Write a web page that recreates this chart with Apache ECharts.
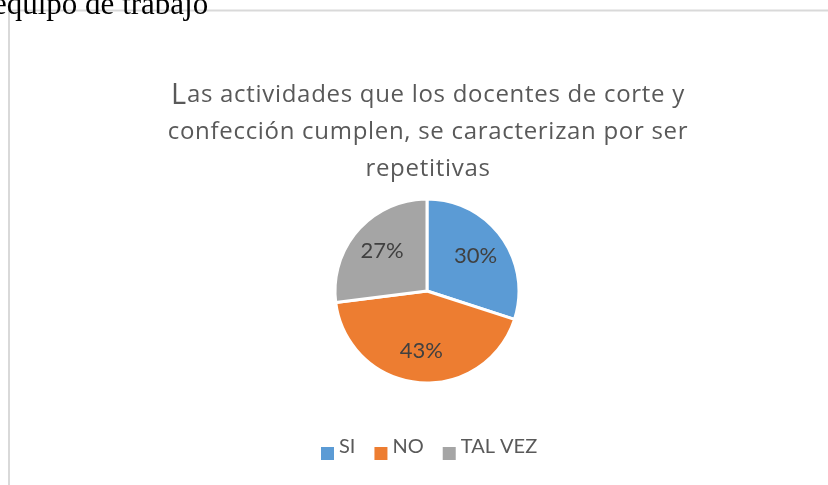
<!DOCTYPE html>
<html>
<head>
<meta charset="utf-8">
<script src="https://cdn.jsdelivr.net/npm/echarts@6/dist/echarts.min.js"></script>
<style>
html,body{margin:0;padding:0;background:#fff;}
#chart{width:828px;height:485px;}
</style>
</head>
<body>
<div id="chart"></div>
<script>
const categories = ['SI', 'NO', 'TAL VEZ'];
const values = [30, 43, 27];
const colors = ['#5B9BD5', '#ED7D31', '#A5A5A5'];
const titleLines = ['Las actividades que los docentes de corte y', 'confección cumplen, se caracterizan por ser', 'repetitivas'];
const headingText = 'equipo de trabajo';

// Title font is rendered with a little extra tracking (like the original Office chart)
(function () {
  const P = CanvasRenderingContext2D.prototype;
  const spacingFor = function (ctx) {
    return (ctx.font && ctx.font.indexOf('Open Sans') >= 0) ? '0.7px' : '0px';
  };
  const origFill = P.fillText, origMeasure = P.measureText;
  P.fillText = function () { try { this.letterSpacing = spacingFor(this); } catch (e) {} return origFill.apply(this, arguments); };
  P.measureText = function () { try { this.letterSpacing = spacingFor(this); } catch (e) {} return origMeasure.apply(this, arguments); };
})();

const pieData = categories.map((c, i) => ({ name: c, value: values[i], itemStyle: { color: colors[i] } }));
const first = titleLines[0];
const titleText = '{big|' + first.charAt(0) + '}{n|' + first.slice(1) + '}\n{n|' + titleLines[1] + '}\n{n|' + titleLines[2] + '}';

const chart = echarts.init(document.getElementById('chart'));
chart.setOption({
  animation: false,
  backgroundColor: '#fff',
  title: {
    text: titleText,
    left: 423,
    top: 72,
    textAlign: 'center',
    textStyle: {
      fontWeight: 'normal',
      rich: {
        big: { fontFamily: 'Open Sans', fontWeight: 'normal', fontSize: 29, color: '#595959', lineHeight: 37 },
        n: { fontFamily: 'Open Sans', fontWeight: 'normal', fontSize: 24, color: '#595959', lineHeight: 37 }
      }
    }
  },
  legend: {
    data: categories,
    left: 321,
    top: 433,
    padding: 0,
    icon: 'path://M0,0L0.01,0M0,14L13,14L13,27L0,27Z',
    symbolKeepAspect: false,
    itemWidth: 13,
    itemHeight: 27,
    itemGap: 19,
    itemStyle: { borderWidth: 0 },
    textStyle: { fontFamily: 'Lato', fontSize: 20, color: '#595959' }
  },
  graphic: [
    { type: 'line', shape: { x1: 8, y1: 10.5, x2: 828, y2: 10.5 }, style: { stroke: '#d9d9d9', lineWidth: 2 }, z: 1 },
    { type: 'line', shape: { x1: 9, y1: 10, x2: 9, y2: 485 }, style: { stroke: '#d9d9d9', lineWidth: 2 }, z: 1 },
    { type: 'text', x: -7, y: 6, z: 5, style: { text: headingText, font: '31px "Liberation Serif"', fill: '#000', verticalAlign: 'middle' } }
  ],
  series: [
    {
      type: 'pie',
      center: [427, 291],
      radius: [0, 92],
      startAngle: 90,
      clockwise: true,
      label: { show: false },
      labelLine: { show: false },
      itemStyle: { borderColor: '#fff', borderWidth: 3 },
      emphasis: { disabled: true },
      data: pieData
    },
    {
      type: 'pie',
      center: [427, 291],
      radius: [0, 114],
      startAngle: 90,
      clockwise: true,
      silent: true,
      z: 3,
      itemStyle: { color: 'rgba(0,0,0,0)', borderWidth: 0 },
      label: {
        show: true,
        position: 'inside',
        formatter: '{d}%',
        fontFamily: 'Lato',
        fontSize: 22,
        color: '#404040'
      },
      labelLine: { show: false },
      emphasis: { disabled: true },
      data: categories.map((c, i) => ({ name: c, value: values[i] }))
    }
  ]
});
</script>
</body>
</html>
